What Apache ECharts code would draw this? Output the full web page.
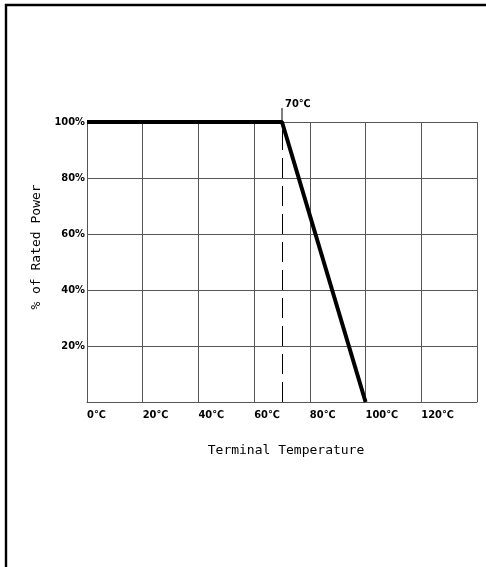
<!DOCTYPE html>
<html>
<head>
<meta charset="utf-8">
<script src="https://cdn.jsdelivr.net/npm/echarts@6/dist/echarts.min.js"></script>
<style>
  html, body { margin: 0; padding: 0; background: #fff; }
  #chart { width: 486px; height: 567px; }
</style>
</head>
<body>
<div id="chart"></div>
<script>
  // derating curve: temperature (℃) vs % of rated power
  var temps = [0, 70, 100]
  var power = [100, 100, 0]
  var kneeTemp = 70
  var kneeLabel = '70℃'
  var xTickLabels = ['0℃', '20℃', '40℃', '60℃', '80℃', '100℃', '120℃', '']
  var yTickLabels = ['', '20%', '40%', '60%', '80%', '100%']

  var chart = echarts.init(document.getElementById('chart'))

  var tickFont = {
    color: '#000',
    fontFamily: 'DejaVu Sans Condensed',
    fontWeight: 'bold',
    fontSize: 11
  }
  var nameFont = {
    color: '#000',
    fontFamily: 'DejaVu Sans Mono',
    fontSize: 13
  }
  var frame = {
    type: 'polyline',
    shape: { points: [[6, 567], [6, 5], [486, 5]] },
    style: { stroke: '#000', lineWidth: 2.4, fill: null }
  }

  chart.setOption({
    animation: false,
    backgroundColor: '#fff',
    graphic: [frame],
    grid: { left: 87, top: 122, width: 390, height: 280 },
    xAxis: {
      type: 'value',
      min: 0,
      max: 140,
      interval: 20,
      name: 'Terminal Temperature',
      nameLocation: 'middle',
      nameGap: 42,
      nameTextStyle: Object.assign({ padding: [0, 0, 0, 8] }, nameFont),
      axisLine: { show: true, lineStyle: { color: '#555', width: 1 } },
      axisTick: { show: false },
      splitLine: { show: true, lineStyle: { color: '#555', width: 1 } },
      axisLabel: Object.assign({
        margin: 8,
        align: 'left',
        formatter: function (v, i) { return xTickLabels[i] }
      }, tickFont)
    },
    yAxis: {
      type: 'value',
      min: 0,
      max: 100,
      interval: 20,
      name: '% of Rated Power',
      nameLocation: 'middle',
      nameGap: 42,
      nameTextStyle: Object.assign({ padding: [0, 0, 0, 30] }, nameFont),
      axisLine: { show: true, lineStyle: { color: '#555', width: 1 } },
      axisTick: { show: false },
      splitLine: { show: true, lineStyle: { color: '#555', width: 1 } },
      axisLabel: Object.assign({
        margin: 2,
        formatter: function (v, i) { return yTickLabels[i] }
      }, tickFont)
    },
    series: [{
      type: 'line',
      data: temps.map(function (t, i) { return [t, power[i]] }),
      symbol: 'none',
      clip: false,
      lineStyle: { color: '#000', width: 4 },
      z: 5,
      markLine: {
        silent: true,
        symbol: 'none',
        label: { show: false },
        lineStyle: { type: [20, 8], color: '#000', width: 1 },
        data: [[{ coord: [kneeTemp, 0] }, { coord: [kneeTemp, 100] }]]
      }
    }]
  })

  // short solid lead above the plot with the knee label
  var kneePx = chart.convertToPixel({ gridIndex: 0 }, [kneeTemp, 100])
  chart.setOption({
    graphic: [frame, {
      type: 'line',
      shape: { x1: kneePx[0], y1: kneePx[1], x2: kneePx[0], y2: kneePx[1] - 14 },
      style: { stroke: '#000', lineWidth: 1 }
    }, {
      type: 'text',
      x: kneePx[0] + 3,
      y: kneePx[1] - 12,
      style: {
        text: kneeLabel,
        fill: '#000',
        font: 'bold 11px "DejaVu Sans Condensed"',
        verticalAlign: 'bottom'
      }
    }]
  })
</script>
</body>
</html>
